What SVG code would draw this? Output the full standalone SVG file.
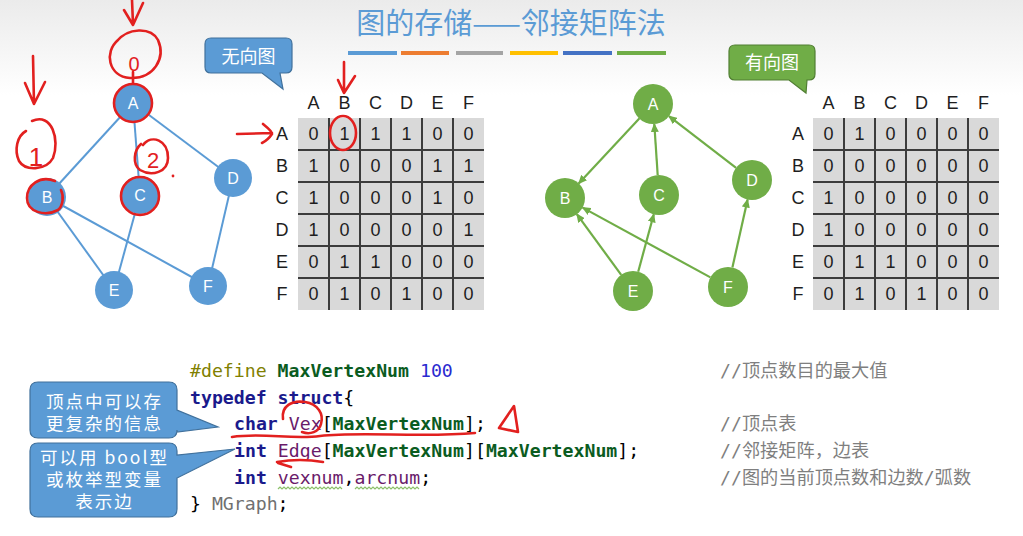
<svg xmlns="http://www.w3.org/2000/svg" width="1023" height="536" viewBox="0 0 1023 536">
<defs>
<linearGradient id="bg" x1="0" y1="0" x2="0" y2="1">
<stop offset="0" stop-color="#ebebeb"/>
<stop offset="1" stop-color="#ffffff"/>
</linearGradient>
<marker id="arr" markerUnits="userSpaceOnUse" markerWidth="9" markerHeight="8" refX="8" refY="4" orient="auto">
<path d="M0,0 L9,4 L0,8 z" fill="#70AD47"/>
</marker>
<style>
.title{font-family:"Noto Sans CJK SC","Noto Sans",sans-serif;font-size:29px;fill:#5B9BD5;text-anchor:middle}
.nb{fill:#5B9BD5}
.ng{fill:#70AD47}
.nl{font-family:"Liberation Sans",Arial,sans-serif;font-size:16px;fill:#ffffff;text-anchor:middle}
.ue{stroke:#5B9BD5;stroke-width:2;fill:none}
.de{stroke:#70AD47;stroke-width:2.2;fill:none;marker-end:url(#arr)}
.cell{fill:#d9d9d9}
.grid{stroke:#3c3c3c;stroke-width:2;fill:none}
.mt{font-family:"Liberation Sans",Arial,sans-serif;font-size:18px;fill:#1e1e1e;text-anchor:middle}
.co{font-family:"Noto Sans CJK SC",sans-serif;fill:#ffffff;text-anchor:middle}
.cb{font-size:17.5px;letter-spacing:2px}
.code{font-family:"DejaVu Sans Mono","Liberation Mono",monospace;font-size:18.2px;fill:#000}
.kw{fill:#1a1a8c;font-weight:bold}
.mac{fill:#0b5c1f;font-weight:bold}
.pp{fill:#808000}
.num{fill:#2a2ad0}
.var{fill:#6a1b6a}
.gr{fill:#707070}
.cm{font-family:"DejaVu Sans Mono","Noto Sans CJK SC",monospace;font-size:18.2px;fill:#7f7f7f}
.red{stroke:#e2201f;stroke-width:2.6;fill:none;stroke-linecap:round;stroke-linejoin:round}
.redt{font-family:"Liberation Sans",Arial,sans-serif;fill:#e2201f}
.sq{stroke:#8cc06a;stroke-width:1.2;fill:none}
</style>
</defs>
<rect x="0" y="0" width="1023" height="536" fill="#ffffff"/>
<rect x="0" y="0" width="1023" height="95" fill="url(#bg)"/>

<g id="title">
<text class="title" x="511" y="34">图的存储——邻接矩阵法</text>
<rect x="348" y="51" width="49" height="4" fill="#5B9BD5"/>
<rect x="401" y="51" width="48" height="4" fill="#ED7D31"/>
<rect x="456" y="51" width="47" height="4" fill="#A5A5A5"/>
<rect x="510" y="51" width="48" height="4" fill="#FFC000"/>
<rect x="563" y="51" width="49" height="4" fill="#4472C4"/>
<rect x="617" y="51" width="49" height="4" fill="#70AD47"/>
</g>

<g id="connectors">
<line class="ue" x1="133" y1="103" x2="47" y2="197"/>
<line class="ue" x1="133" y1="103" x2="140" y2="195"/>
<line class="ue" x1="133" y1="103" x2="233" y2="178"/>
<line class="ue" x1="47" y1="197" x2="114" y2="290"/>
<line class="ue" x1="47" y1="197" x2="208" y2="286"/>
<line class="ue" x1="140" y1="195" x2="114" y2="290"/>
<line class="ue" x1="233" y1="178" x2="208" y2="286"/>
<line class="de" x1="639.3" y1="118.6" x2="578.7" y2="183.4"/>
<line class="de" x1="657.7" y1="175" x2="654.3" y2="124"/>
<line class="de" x1="736.1" y1="167.8" x2="668.9" y2="116.2"/>
<line class="de" x1="621.2" y1="274.9" x2="576.8" y2="214.1"/>
<line class="de" x1="638.2" y1="271.7" x2="653.8" y2="214.3"/>
<line class="de" x1="710.4" y1="277.4" x2="582.6" y2="207.6"/>
<line class="de" x1="732.4" y1="267.5" x2="747.6" y2="199.5"/>
</g>

<g id="uA"><circle class="nb" cx="133" cy="103" r="19"/><text class="nl" x="133" y="109">A</text></g>
<g id="uB"><circle class="nb" cx="47" cy="197" r="19"/><text class="nl" x="47" y="203">B</text></g>
<g id="uC"><circle class="nb" cx="140" cy="195" r="19"/><text class="nl" x="140" y="201">C</text></g>
<g id="uD"><circle class="nb" cx="233" cy="178" r="19"/><text class="nl" x="233" y="184">D</text></g>
<g id="uE"><circle class="nb" cx="114" cy="290" r="19"/><text class="nl" x="114" y="296">E</text></g>
<g id="uF"><circle class="nb" cx="208" cy="286" r="19"/><text class="nl" x="208" y="292">F</text></g>

<g id="dA"><circle class="ng" cx="653" cy="104" r="20"/><text class="nl" x="653" y="110">A</text></g>
<g id="dB"><circle class="ng" cx="565" cy="198" r="20"/><text class="nl" x="565" y="204">B</text></g>
<g id="dC"><circle class="ng" cx="659" cy="195" r="20"/><text class="nl" x="659" y="201">C</text></g>
<g id="dD"><circle class="ng" cx="752" cy="180" r="20"/><text class="nl" x="752" y="186">D</text></g>
<g id="dE"><circle class="ng" cx="633" cy="291" r="20"/><text class="nl" x="633" y="297">E</text></g>
<g id="dF"><circle class="ng" cx="728" cy="287" r="20"/><text class="nl" x="728" y="293">F</text></g>

<g id="callout-undirected">
<path d="M211,38 H286 Q292,38 292,44 V67 Q292,73 286,73 H280 L283,89 L262,73 H211 Q205,73 205,67 V44 Q205,38 211,38 Z" fill="#5B9BD5" stroke="#41719C" stroke-width="1.2"/>
<text class="co" x="248.5" y="63" font-size="18">无向图</text>
</g>
<g id="callout-directed">
<path d="M735,45 H809 Q815,45 815,51 V74 Q815,80 809,80 H807 L806,93 L789,80 H735 Q729,80 729,74 V51 Q729,45 735,45 Z" fill="#70AD47" stroke="#507E32" stroke-width="1.2"/>
<text class="co" x="772" y="69" font-size="18">有向图</text>
</g>

<g id="matrix-undirected">
<rect class="cell" x="298" y="118" width="186" height="192"/>
<path class="grid" d="M329,118 V310 M360,118 V310 M391,118 V310 M422,118 V310 M453,118 V310 M298,150 H484 M298,182 H484 M298,214 H484 M298,246 H484 M298,278 H484"/>
<text class="mt" x="313.5 344.5 375.5 406.5 437.5 468.5" y="109">ABCDEF</text>
<text class="mt" x="282 282 282 282 282 282" y="140 172 204 236 268 300">ABCDEF</text>
<text class="mt" x="313.5 344.5 375.5 406.5 437.5 468.5" y="140">011100</text>
<text class="mt" x="313.5 344.5 375.5 406.5 437.5 468.5" y="172">100011</text>
<text class="mt" x="313.5 344.5 375.5 406.5 437.5 468.5" y="204">100010</text>
<text class="mt" x="313.5 344.5 375.5 406.5 437.5 468.5" y="236">100001</text>
<text class="mt" x="313.5 344.5 375.5 406.5 437.5 468.5" y="268">011000</text>
<text class="mt" x="313.5 344.5 375.5 406.5 437.5 468.5" y="300">010100</text>
</g>

<g id="matrix-directed">
<rect class="cell" x="813" y="118" width="186" height="192"/>
<path class="grid" d="M844,118 V310 M875,118 V310 M906,118 V310 M937,118 V310 M968,118 V310 M813,150 H999 M813,182 H999 M813,214 H999 M813,246 H999 M813,278 H999"/>
<text class="mt" x="828.5 859.5 890.5 921.5 952.5 983.5" y="109">ABCDEF</text>
<text class="mt" x="798 798 798 798 798 798" y="140 172 204 236 268 300">ABCDEF</text>
<text class="mt" x="828.5 859.5 890.5 921.5 952.5 983.5" y="140">010000</text>
<text class="mt" x="828.5 859.5 890.5 921.5 952.5 983.5" y="172">000000</text>
<text class="mt" x="828.5 859.5 890.5 921.5 952.5 983.5" y="204">100000</text>
<text class="mt" x="828.5 859.5 890.5 921.5 952.5 983.5" y="236">100000</text>
<text class="mt" x="828.5 859.5 890.5 921.5 952.5 983.5" y="268">011000</text>
<text class="mt" x="828.5 859.5 890.5 921.5 952.5 983.5" y="300">010100</text>
</g>

<g id="code">
<text class="code" x="190" y="377"><tspan class="pp">#define</tspan> <tspan class="mac">MaxVertexNum</tspan> <tspan class="num">100</tspan></text>
<text class="code" x="190" y="403.5"><tspan class="kw">typedef</tspan> <tspan class="kw">struct</tspan>{</text>
<text class="code" x="234" y="430"><tspan class="kw">char</tspan> <tspan class="var">Vex</tspan>[<tspan class="mac">MaxVertexNum</tspan>];</text>
<text class="code" x="234" y="457"><tspan class="kw">int</tspan> <tspan class="var">Edge</tspan>[<tspan class="mac">MaxVertexNum</tspan>][<tspan class="mac">MaxVertexNum</tspan>];</text>
<text class="code" x="234" y="483.5"><tspan class="kw">int</tspan> <tspan class="var">vexnum</tspan>,<tspan class="var">arcnum</tspan>;</text>
<text class="code" x="190" y="510">} <tspan class="gr">MGraph</tspan>;</text>
<path class="sq" d="M278,489 l2,-2 2,2 2,-2 2,2 2,-2 2,2 2,-2 2,2 2,-2 2,2 2,-2 2,2 2,-2 2,2 2,-2 2,2 2,-2 2,2 2,-2 2,2 2,-2 2,2 2,-2 2,2 2,-2 2,2 2,-2 2,2 2,-2 2,2 2,-2 2,2"/>
<path class="sq" d="M355,489 l2,-2 2,2 2,-2 2,2 2,-2 2,2 2,-2 2,2 2,-2 2,2 2,-2 2,2 2,-2 2,2 2,-2 2,2 2,-2 2,2 2,-2 2,2 2,-2 2,2 2,-2 2,2 2,-2 2,2 2,-2 2,2 2,-2 2,2 2,-2 2,2"/>
<text class="cm" x="720" y="377">//顶点数目的最大值</text>
<text class="cm" x="720" y="430">//顶点表</text>
<text class="cm" x="720" y="457">//邻接矩阵，边表</text>
<text class="cm" x="720" y="483.5">//图的当前顶点数和边数/弧数</text>
</g>

<g id="callout-vertex">
<path d="M38,382 H169 Q177,382 177,390 V410 L218,427 L177,432 V430 Q177,438 169,438 H38 Q30,438 30,430 V390 Q30,382 38,382 Z" fill="#5B9BD5" stroke="#41719C" stroke-width="1.2"/>
<text class="co cb" x="104.5" y="408"><tspan x="104.5" y="408">顶点中可以存</tspan><tspan x="104.5" y="430">更复杂的信息</tspan></text>
</g>
<g id="callout-edge">
<path d="M38,443 H169 Q177,443 177,451 V455 L235,449 L177,478 V509 Q177,517 169,517 H38 Q30,517 30,509 V451 Q30,443 38,443 Z" fill="#5B9BD5" stroke="#41719C" stroke-width="1.2"/>
<text class="co cb" x="104.5" y="464"><tspan x="104.5" y="464">可以用 bool型</tspan><tspan x="104.5" y="486">或枚举型变量</tspan><tspan x="104.5" y="508">表示边</tspan></text>
</g>

<g id="annotations">
<path class="red" d="M132,0 L133,24 M124,10 L133,25 L143,3"/>
<path class="red" d="M118,40 C104,52 108,76 130,78 C154,79 166,58 158,40 C151,27 128,27 116,42"/>
<text class="redt" x="134" y="71" font-size="20" text-anchor="middle">0</text>
<path class="red" d="M133,72 L133,83"/>
<circle class="red" cx="133" cy="103" r="19" stroke-width="3"/>
<path class="red" d="M33,56 L34,104 M25,83 L34,104 L45,82"/>
<path class="red" d="M32,121 C52,112 60,140 53,158 C46,171 25,171 19,161 C14,150 17,136 26,131"/>
<text class="redt" x="36" y="166" font-size="26" text-anchor="middle">1</text>
<path class="red" stroke-width="3" d="M55,181 C40,175 27,185 27,198 C27,212 45,217 58,210 C63,206 64,196 61,190"/>
<path class="red" d="M143,145 C152,134 168,140 168,158 C168,172 152,177 140,170 C132,164 134,150 141,144"/>
<text class="redt" x="153" y="168" font-size="22" text-anchor="middle">2</text>
<circle cx="173" cy="176" r="1.4" fill="#e2201f"/>
<circle class="red" cx="140" cy="196" r="19" stroke-width="3"/>
<path class="red" d="M237,134 L272,133 M263,124 C268,128 272,131 272,134 C270,137 266,141 262,143"/>
<path class="red" d="M344,62 L344,93 M338,80 L344,93 L355,76"/>
<ellipse class="red" cx="343" cy="133" rx="13" ry="17"/>
<path class="red" d="M283,419 C281,406 292,400 305,402 C318,404 324,414 321,424 C319,432 310,435 302,432"/>
<path class="red" d="M232,437 C262,432 292,440 320,436 C362,431 420,438 475,433"/>
<path class="red" d="M499,428 L514,406 L518,432 Z"/>
<path class="red" stroke-width="3.2" d="M277,462 Q300,458 323,462 M278,463 L291,467"/>
</g>
</svg>
